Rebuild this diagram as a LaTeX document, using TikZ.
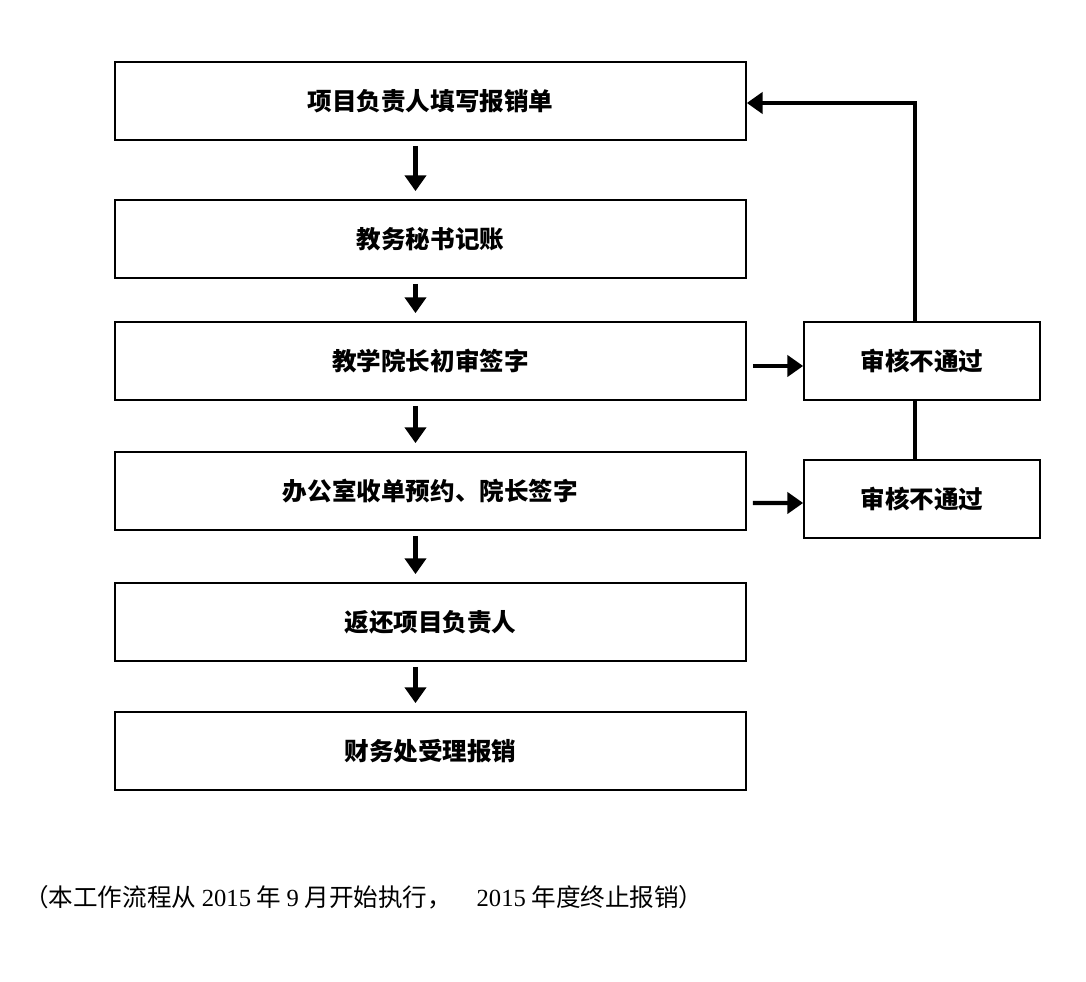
\documentclass[tikz,border=0pt]{standalone}
\usepackage{fontspec}
\setmainfont{Liberation Serif}
\newfontfamily\cjk{Noto Sans CJK SC}
\usetikzlibrary{arrows.meta,positioning}

\begin{document}
\begin{tikzpicture}[x=0.02cm,y=-0.02cm,>={Triangle[width=12pt,length=9pt]},
  every node/.style={font=\cjk\bfseries\fontsize{14pt}{16pt}\selectfont},
  box/.style={draw,line width=1pt,minimum width=12.62cm,minimum height=1.56cm},
  nobox/.style={draw,line width=1pt,minimum width=4.72cm,minimum height=1.56cm},
  flow/.style={->,line width=2.5pt}]
\useasboundingbox (0,0) rectangle (1086,982);

\node[box]   (fill)   at (430.5,101) {项目负责人填写报销单};
\node[box]   (book)   at (430.5,239) {教务秘书记账};
\node[box]   (dean)   at (430.5,361) {教学院长初审签字};
\node[box]   (office) at (430.5,491) {办公室收单预约、院长签字};
\node[box]   (back)   at (430.5,622) {返还项目负责人};
\node[box]   (fin)    at (430.5,751) {财务处受理报销};
\node[nobox] (no1)    at (922,361) {审核不通过};
\node[nobox] (no2)    at (922,499) {审核不通过};

\draw[flow] ([xshift=-0.3cm,yshift=-0.1cm]fill.south) -- ([xshift=-0.3cm,yshift=0.16cm]book.north);
\draw[flow] ([xshift=-0.3cm,yshift=-0.1cm]book.south) -- ([xshift=-0.3cm,yshift=0.16cm]dean.north);
\draw[flow] ([xshift=-0.3cm,yshift=-0.1cm]dean.south) -- ([xshift=-0.3cm,yshift=0.16cm]office.north);
\draw[flow] ([xshift=-0.3cm,yshift=-0.1cm]office.south) -- ([xshift=-0.3cm,yshift=0.16cm]back.north);
\draw[flow] ([xshift=-0.3cm,yshift=-0.1cm]back.south) -- ([xshift=-0.3cm,yshift=0.16cm]fin.north);

\draw[flow] ([xshift=0.12cm,yshift=-0.1cm]dean.east) -- ([yshift=-0.1cm]no1.west);
\draw[flow] ([xshift=0.12cm,yshift=-0.24cm]office.east) -- ([yshift=-0.08cm]no2.west);

\draw[line width=2.5pt] ([xshift=-0.14cm]no2.north) -- ([xshift=-0.14cm]no1.south);
\draw[flow] ([xshift=-0.14cm]no1.north) |- ([yshift=-0.04cm]fill.east);

\node[anchor=west,font=\cjk\fontsize{14pt}{16pt}\selectfont] (note) at (18,897)
  {（本工作流程从 {\rmfamily 2015} 年 {\rmfamily 9} 月开始执行，\quad{\rmfamily 2015} 年度终止报销）};
\end{tikzpicture}
\end{document}
